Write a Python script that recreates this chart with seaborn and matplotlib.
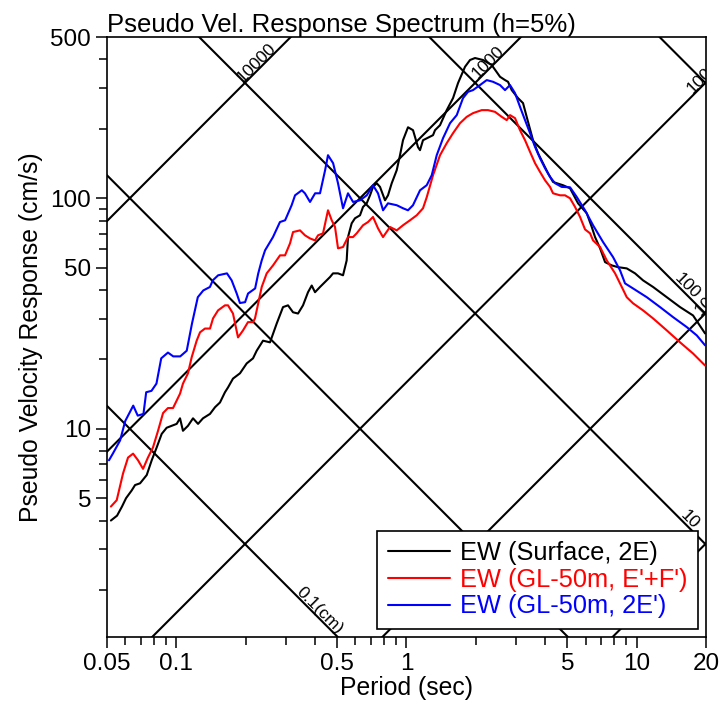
import numpy as np
import matplotlib
matplotlib.use("Agg")
import matplotlib.pyplot as plt
import matplotlib.ticker as mticker
from matplotlib.transforms import offset_copy
import seaborn as sns

# ---- spectra: period (s) vs pseudo velocity (cm/s) ----
surface_T = [0.052, 0.0553, 0.0581, 0.0605, 0.0640, 0.0662, 0.0696, 0.0744, 0.0782, 0.0822,
             0.0864, 0.0908, 0.0955, 0.1004, 0.1038, 0.1069, 0.1124, 0.1182, 0.1243, 0.1306,
             0.1401, 0.1473, 0.1548, 0.1627, 0.1677, 0.1763, 0.1891, 0.2022, 0.2154, 0.2235,
             0.2381, 0.2553, 0.2730, 0.2908, 0.3057, 0.3214, 0.3379, 0.3552, 0.3734, 0.3875,
             0.4005, 0.4210, 0.4426, 0.4653, 0.4795, 0.5041, 0.5300, 0.5497, 0.5570, 0.5779,
             0.5973, 0.6281, 0.6473, 0.6716, 0.6943, 0.7154, 0.7424, 0.7673, 0.8066, 0.8312,
             0.8626, 0.9067, 0.9372, 0.9656, 1.0153, 1.0674, 1.1220, 1.1447, 1.1795, 1.3038,
             1.3302, 1.3984, 1.4953, 1.5927, 1.6743, 1.7958, 1.8880, 1.9848, 2.1496, 2.3450,
             2.5483, 2.6790, 2.7606, 2.8648, 3.0508, 3.2078, 3.3723, 3.5452, 3.7272, 3.9174,
             4.1190, 4.3302, 4.4936, 4.7854, 5.1330, 5.5610, 6.0669, 6.3792, 6.5931, 6.9324,
             7.2882, 7.7934, 8.2999, 9.0522, 9.8353, 10.66, 11.78, 13.51, 15.43, 17.57, 19.82]
surface_sv = [4.0, 4.2, 4.6, 5.0, 5.4, 5.7, 5.8, 6.3, 7.3, 8.3,
              9.5, 10.1, 10.3, 10.5, 11.1, 9.8, 10.3, 11.1, 10.5, 11.1,
              11.6, 12.4, 13.0, 14.4, 15.1, 16.5, 17.4, 19.2, 20.2, 21.8,
              24.1, 23.7, 28.6, 33.7, 34.3, 32.0, 31.6, 34.3, 39.1, 41.8,
              39.1, 41.2, 43.3, 45.5, 47.2, 47.2, 46.3, 53.7, 67.8, 77.8,
              81.8, 84.3, 91.6, 95.0, 102.9, 111.9, 116.1, 111.9, 97.9, 102.9,
              116.1, 132.2, 153.6, 178.4, 203.0, 197.2, 166.4, 161.5, 178.4, 187.6,
              197.2, 207.3, 240.9, 271.6, 315.6, 371.5, 397.4, 405.3, 397.4, 377.9,
              336.1, 325.2, 319.7, 294.2, 271.6, 258.4, 214.3, 178.4, 156.7, 141.8,
              128.3, 117.6, 116.1, 113.8, 110.4, 95.0, 86.0, 75.0, 67.8, 60.6,
              52.8, 51.1, 50.2, 49.6, 47.2, 44.0, 41.2, 37.2, 33.7, 31.0, 25.9]

gl_ef_T = [0.052, 0.0551, 0.0587, 0.0617, 0.0649, 0.0682, 0.0717, 0.0753, 0.0792, 0.0833,
           0.0876, 0.0920, 0.0968, 0.1038, 0.1069, 0.1124, 0.1166, 0.1226, 0.1268, 0.1332,
           0.1401, 0.1444, 0.1518, 0.1627, 0.1677, 0.1763, 0.1854, 0.1949, 0.2048, 0.2154,
           0.2197, 0.2350, 0.2470, 0.2631, 0.2822, 0.2967, 0.3119, 0.3214, 0.3447, 0.3623,
           0.3809, 0.4005, 0.4127, 0.4339, 0.4560, 0.4733, 0.4892, 0.5041, 0.5300, 0.5570,
           0.5855, 0.6076, 0.6473, 0.6805, 0.7154, 0.7521, 0.7906, 0.8481, 0.9067, 0.9656,
           1.0358, 1.1076, 1.1795, 1.2241, 1.3038, 1.3984, 1.4953, 1.5927, 1.7082, 1.8267,
           1.9454, 2.1217, 2.2599, 2.4240, 2.5921, 2.7250, 2.8164, 2.9608, 3.1124, 3.2728,
           3.4406, 3.6170, 3.8019, 3.9967, 4.2024, 4.3302, 4.6441, 4.8822, 5.1330, 5.3970,
           5.6734, 5.9644, 6.2714, 6.4622, 6.9324, 7.4137, 8.0548, 8.6138, 9.0522, 9.6403,
           10.66, 11.78, 13.51, 15.43, 17.57, 19.82]
gl_ef_sv = [4.6, 4.9, 6.4, 7.5, 7.8, 7.3, 6.7, 7.5, 8.3, 9.8,
            11.7, 12.3, 12.3, 14.2, 15.7, 17.4, 20.4, 24.1, 26.2, 27.2,
            27.2, 30.1, 32.6, 34.3, 34.3, 31.6, 24.9, 26.7, 29.0, 29.0,
            30.1, 41.2, 47.2, 51.1, 56.5, 56.5, 63.7, 71.3, 72.5, 69.0,
            66.9, 65.6, 69.0, 70.4, 88.6, 80.2, 75.0, 60.6, 61.4, 67.8,
            67.8, 70.4, 76.3, 78.8, 82.9, 74.0, 67.8, 75.0, 72.5, 76.3,
            80.2, 84.3, 90.4, 100.9, 125.7, 153.6, 173.2, 191.4, 211.5, 225.3,
            233.8, 240.9, 240.9, 236.8, 225.3, 218.0, 229.2, 222.4, 197.2, 178.4,
            158.8, 141.8, 130.0, 119.6, 111.9, 105.0, 102.9, 102.9, 99.9, 91.6,
            82.9, 73.2, 70.4, 65.6, 61.4, 53.7, 47.2, 41.2, 37.2, 35.0,
            32.6, 30.1, 26.7, 23.7, 21.2, 18.8]

gl_2e_T = [0.051, 0.053, 0.057, 0.060, 0.065, 0.068, 0.072, 0.074, 0.078, 0.082,
           0.086, 0.092, 0.097, 0.104, 0.111, 0.117, 0.124, 0.131, 0.140, 0.144,
           0.152, 0.166, 0.174, 0.183, 0.189, 0.199, 0.205, 0.220, 0.227, 0.235,
           0.243, 0.263, 0.282, 0.297, 0.317, 0.328, 0.351, 0.362, 0.381, 0.401,
           0.421, 0.443, 0.456, 0.480, 0.504, 0.530, 0.557, 0.586, 0.628, 0.672,
           0.715, 0.752, 0.791, 0.831, 0.907, 0.966, 1.015, 1.067, 1.145, 1.224,
           1.287, 1.353, 1.441, 1.546, 1.653, 1.760, 1.851, 1.945, 2.086, 2.231,
           2.376, 2.548, 2.679, 2.816, 2.961, 3.112, 3.273, 3.441, 3.617, 3.802,
           3.997, 4.202, 4.418, 4.724, 5.133, 5.490, 5.964, 6.462, 7.144, 7.895,
           8.468, 8.899, 9.640, 11.06, 12.63, 14.38, 16.50, 18.24, 19.82]
gl_2e_sv = [7.3, 7.8, 8.9, 10.8, 12.6, 11.4, 11.6, 14.4, 14.6, 15.7,
            20.2, 21.4, 20.6, 20.6, 21.8, 28.6, 37.2, 39.8, 41.2, 44.0,
            46.3, 47.2, 44.0, 38.6, 35.1, 35.4, 38.6, 40.6, 47.2, 53.7,
            59.4, 67.8, 78.8, 80.2, 93.2, 102.9, 108.2, 105.0, 96.3, 105.0,
            105.0, 132.2, 153.6, 141.8, 116.1, 90.4, 105.0, 96.3, 97.9, 102.9,
            113.8, 105.0, 88.6, 95.0, 93.2, 90.4, 88.6, 93.2, 108.2, 113.8,
            125.7, 153.6, 182.0, 211.5, 229.2, 271.6, 289.3, 294.2, 309.4, 325.2,
            319.7, 309.4, 294.2, 309.4, 285.5, 249.0, 218.0, 191.4, 166.9, 149.0,
            134.9, 123.6, 116.1, 111.9, 111.5, 101.2, 88.6, 76.3, 64.5, 55.5,
            48.6, 42.7, 40.6, 37.2, 33.7, 30.5, 27.6, 25.4, 23.0]

series_names = ["EW (Surface, 2E)", "EW (GL-50m, E'+F')", "EW (GL-50m, 2E')"]
series_colors = ["black", "red", "blue"]

# tripartite guide lines: constant acceleration (cm/s^2) and displacement (cm)
acc_levels = [1, 10, 100, 1000, 10000]
disp_levels = [0.1, 1, 10, 100, 1000]
# (kind, level, text, pixels back from where the line leaves the frame)
guide_labels = [("acc", 10000, "10000", 30), ("acc", 1000, "1000", 29),
                ("acc", 100, "100", 2.5), ("acc", 10, "10", -3),
                ("disp", 100, "100", 23.5), ("disp", 10, "10", 20.5),
                ("disp", 0.1, "0.1(cm)", 22)]

x_ticks = [0.05, 0.1, 0.5, 1, 5, 10, 20]
x_ticklabels = ["0.05", "0.1", "0.5", "1", "5", "10", "20"]
y_ticks = [5, 10, 50, 100, 500]
y_ticklabels = ["5", "10", "50", "100", "500"]
XMIN, XMAX = 0.05, 20
YMIN, YMAX = 1.25, 500

sns.set_style("ticks")
plt.rcParams["font.family"] = ["Liberation Sans", "DejaVu Sans"]
plt.rcParams["text.color"] = "black"
plt.rcParams["axes.labelcolor"] = "black"
plt.rcParams["axes.edgecolor"] = "black"
plt.rcParams["xtick.color"] = "black"
plt.rcParams["ytick.color"] = "black"

fig = plt.figure(figsize=(7.21, 7.09), dpi=100)
ax = fig.add_axes([107 / 721, 72 / 709, 599 / 721, 600 / 709])

for T, sv, name, col in zip([surface_T, gl_ef_T, gl_2e_T],
                            [surface_sv, gl_ef_sv, gl_2e_sv],
                            series_names, series_colors):
    sns.lineplot(x=T, y=sv, color=col, label=name, lw=1.5, sort=False,
                 estimator=None, ax=ax, zorder=3)

t_line = np.array([0.005, 200.0])
for a in acc_levels:
    ax.plot(t_line, a * t_line / (2 * np.pi), color="black", lw=1.5, zorder=2)
for d in disp_levels:
    ax.plot(t_line, 2 * np.pi * d / t_line, color="black", lw=1.5, zorder=2)

ax.set_xscale("log")
ax.set_yscale("log")
ax.set_xlim(XMIN, XMAX)
ax.set_ylim(YMIN, YMAX)

px_per_dec = 600 / np.log10(YMAX / YMIN)
for kind, level, text, back in guide_labels:
    if kind == "acc":
        t_end = min(2 * np.pi * YMAX / level, XMAX)
        t = t_end / 10 ** (back / px_per_dec)
        sv = level * t / (2 * np.pi)
        rot, nx = 45, -1
    else:
        t_end = min(2 * np.pi * level / YMIN, XMAX)
        t = t_end / 10 ** (back / px_per_dec)
        sv = 2 * np.pi * level / t
        rot, nx = -45, 1
    tr = offset_copy(ax.transData, fig=fig, x=nx * 1.1, y=1.1, units="dots")
    ax.text(t, sv, text, transform=tr, rotation=rot, rotation_mode="anchor",
            ha="center", va="baseline", fontsize=12.5, clip_on=True, zorder=2)

ax.xaxis.set_major_locator(mticker.FixedLocator(x_ticks))
ax.xaxis.set_major_formatter(mticker.FixedFormatter(x_ticklabels))
ax.xaxis.set_minor_locator(mticker.LogLocator(base=10, subs=np.arange(2, 10), numticks=20))
ax.xaxis.set_minor_formatter(mticker.NullFormatter())
ax.yaxis.set_major_locator(mticker.FixedLocator(y_ticks))
ax.yaxis.set_major_formatter(mticker.FixedFormatter(y_ticklabels))
ax.yaxis.set_minor_locator(mticker.LogLocator(base=10, subs=np.arange(2, 10), numticks=20))
ax.yaxis.set_minor_formatter(mticker.NullFormatter())

ax.tick_params(which="major", direction="out", length=8, width=1.1, labelsize=17.5, pad=3.5)
ax.tick_params(which="minor", direction="out", length=5.5, width=1.1)
for sp in ax.spines.values():
    sp.set_linewidth(1.2)
    sp.set_color("black")

ax.set_xlabel("Period (sec)", fontsize=17.8, labelpad=1)
ax.set_ylabel("Pseudo Velocity Response (cm/s)", fontsize=17.8, labelpad=5)
ax.set_title("Pseudo Vel. Response Spectrum (h=5%)", loc="left", fontsize=18.5, pad=2)

leg = ax.legend(loc="lower right", fontsize=18.3, frameon=True, fancybox=False,
                framealpha=1, edgecolor="black", borderaxespad=0.33, borderpad=0.4,
                handlelength=2.45, handletextpad=0.4, labelspacing=0.1)
leg.get_frame().set_linewidth(1.2)
leg.set_zorder(5)
for txt, col in zip(leg.get_texts(), series_colors):
    txt.set_color(col)

fig.savefig("out.png", dpi=100)
